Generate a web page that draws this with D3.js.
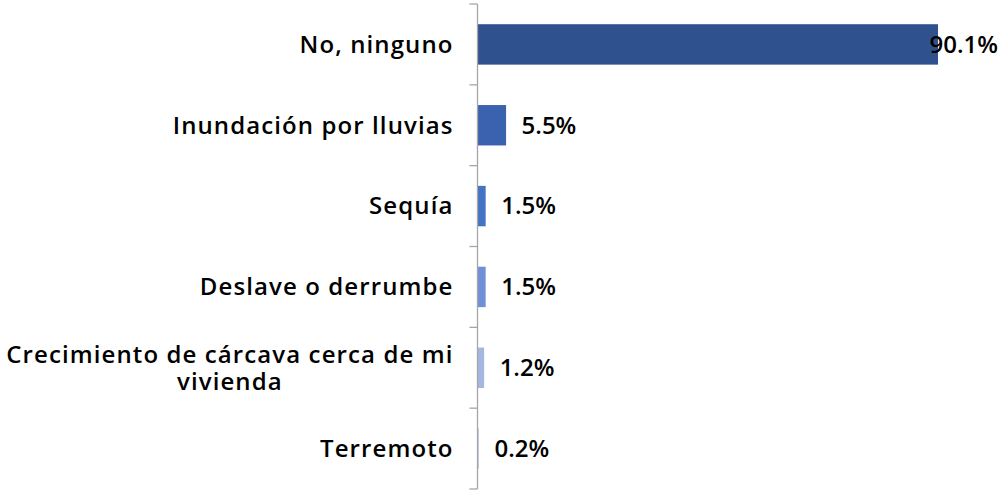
<!DOCTYPE html>
<html>
<head>
<meta charset="utf-8">
<script src="https://cdn.jsdelivr.net/npm/d3@7"></script>
<style>
  body { margin: 0; background: #fff; }
  text { font-family: "Open Sans", "Noto Sans", sans-serif; fill: #000; }
</style>
</head>
<body>
<div id="chart"></div>
<script>
// data
const CATEGORIES = ["No, ninguno", "Inundación por lluvias", "Sequía", "Deslave o derrumbe",
    "Crecimiento de cárcava cerca de mi|vivienda", "Terremoto"];
const VALUES = [90.1, 5.5, 1.5, 1.5, 1.2, 0.2];
const COLORS = ["#2F528F", "#3A62AE", "#4472C4", "#6F8FD6", "#A5B6E0", "#C6D0EE"];

const FRAME_WIDTH = 1002;
const FRAME_HEIGHT = 492;
const MARGINS = { left: 477.5, right: 64, top: 4, bottom: 3 };
const VIS_WIDTH = FRAME_WIDTH - MARGINS.left - MARGINS.right;
const VIS_HEIGHT = FRAME_HEIGHT - MARGINS.top - MARGINS.bottom;

const FRAME = d3.select("#chart")
    .append("svg")
    .attr("width", FRAME_WIDTH)
    .attr("height", FRAME_HEIGHT);

const X_SCALE = d3.scaleLinear()
    .domain([0, 90.1])
    .range([0, 460]);

const Y_SCALE = d3.scaleBand()
    .domain(CATEGORIES)
    .range([0, VIS_HEIGHT])
    .paddingInner(0.5)
    .paddingOuter(0.25);

const G = FRAME.append("g")
    .attr("transform", "translate(" + MARGINS.left + "," + MARGINS.top + ")");

// bars
G.selectAll(".bar")
    .data(CATEGORIES)
    .enter()
    .append("rect")
    .attr("class", "bar")
    .attr("x", 0.5)
    .attr("y", (d) => Y_SCALE(d))
    .attr("height", Y_SCALE.bandwidth())
    .attr("width", (d, i) => X_SCALE(VALUES[i]))
    .style("fill", (d, i) => COLORS[i]);

// vertical axis line with tick marks between categories
const step = Y_SCALE.step();
G.append("line")
    .attr("x1", 0).attr("x2", 0)
    .attr("y1", 0).attr("y2", VIS_HEIGHT)
    .attr("stroke", "#a6a6a6").attr("stroke-width", 1.3);
G.selectAll(".tick")
    .data(d3.range(CATEGORIES.length + 1))
    .enter()
    .append("line")
    .attr("x1", -8).attr("x2", 0)
    .attr("y1", (d) => d * step).attr("y2", (d) => d * step)
    .attr("stroke", "#a6a6a6").attr("stroke-width", 1.3);

// category labels
const labels = G.selectAll(".cat")
    .data(CATEGORIES)
    .enter()
    .append("text")
    .attr("class", "cat")
    .attr("text-anchor", "middle")
    .attr("font-size", "24px")
    .attr("font-weight", "600")
    .attr("letter-spacing", "1.1px");
labels.each(function (d) {
    const lines = d.split("|");
    const cy = Y_SCALE(d) + Y_SCALE.bandwidth() / 2;
    const t = d3.select(this);
    lines.forEach((ln, k) => {
        t.append("tspan")
            .attr("x", 0)
            .attr("y", cy + (k - (lines.length - 1) / 2) * 27)
            .attr("dy", "0.35em")
            .text(ln);
    });
    // lines centered on each other, block ends near the axis
    const w = this.getBBox().width;
    t.attr("transform", "translate(" + (-24 - w / 2) + ",0)");
});

// value labels
G.selectAll(".val")
    .data(CATEGORIES)
    .enter()
    .append("text")
    .attr("class", "val")
    .attr("font-size", "24px")
    .attr("font-weight", "600")
    .attr("y", (d) => Y_SCALE(d) + Y_SCALE.bandwidth() / 2)
    .attr("dy", "0.35em")
    .text((d, i) => VALUES[i].toFixed(1) + "%")
    .each(function (d, i) {
        const w = this.getComputedTextLength();
        const x = Math.min(X_SCALE(VALUES[i]) + 16, FRAME_WIDTH - MARGINS.left - w - 4);
        d3.select(this).attr("x", x);
    });
</script>
</body>
</html>
